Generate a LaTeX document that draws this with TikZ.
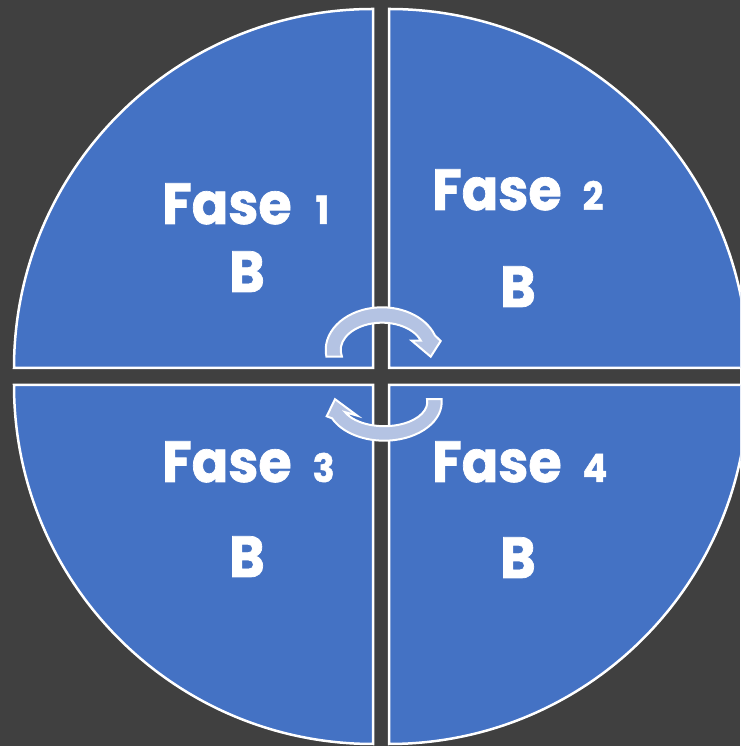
\documentclass[tikz,border=0pt]{standalone}
\usepackage{fontspec}
\setmainfont{Poppins}[FakeStretch=0.93,BoldFeatures={FakeBold=1.2}]
\definecolor{bg}{HTML}{404040}
\definecolor{qblue}{HTML}{4472C4}
\definecolor{arrowfill}{HTML}{B4C3E3}
\begin{document}
\begin{tikzpicture}[x=1pt,y=1pt,
  quarter/.style={fill=qblue,draw=white,line width=2.5pt},
  cyc/.style={fill=arrowfill,draw=white,line width=2pt,line join=miter},
  big/.style={text=white,font=\fontsize{58}{60}\selectfont\bfseries,inner sep=0pt}]
\newcommand\dg[1]{{\fontsize{39}{40}\selectfont #1}}
\fill[bg] (0,0) rectangle (740,746);
\useasboundingbox (0,0) rectangle (740,746);
\begin{scope}
  \clip (0,0) rectangle (740,746);
  \draw[quarter] (373,378) -- ++(-359,0) arc[start angle=180,end angle=90,radius=359] -- cycle;
  \draw[quarter] (389,378) -- ++(0,359) arc[start angle=90,end angle=0,radius=359] -- cycle;
  \draw[quarter] (373,361) -- ++(-359,0) arc[start angle=180,end angle=270,radius=359] -- cycle;
  \draw[quarter] (389,361) -- ++(0,-359) arc[start angle=270,end angle=360,radius=359] -- cycle;
\end{scope}
% top circular arrow (clockwise, head on the right)
\begin{scope}[shift={(382,396)}]
  \draw[cyc] (189:56.3 and 42.7) arc[start angle=189,end angle=20,x radius=56.3,y radius=42.7]
    -- (58.7,9) -- (48.7,-6.7) -- (29.7,9.3)
    -- (20:41.3 and 27.3) arc[start angle=20,end angle=194.2,x radius=41.3,y radius=27.3] -- cycle;
\end{scope}
% bottom circular arrow (clockwise, head on the left)
\begin{scope}[shift={(384.2,344)}]
  \draw[cyc] (4.2:57.5 and 38.7) arc[start angle=4.2,end angle=-155,x radius=57.5,y radius=38.7]
    -- (-57.5,-14.3) -- (-49.2,2.8) -- (-26.9,-13.7)
    -- (-155:43.1 and 24.2) arc[start angle=-155,end angle=6.8,x radius=43.1,y radius=24.2] -- cycle;
\end{scope}
\node[big,anchor=base west] (f1) at (162,522) {Fase\hspace{24pt}\dg{1}};
\node[big,anchor=base west] (f2) at (432,536) {Fase\hspace{21pt}\dg{2}};
\node[big,anchor=base west] (f3) at (162,264) {Fase\hspace{21pt}\dg{3}};
\node[big,anchor=base west] (f4) at (432,264) {Fase\hspace{21pt}\dg{4}};
\node[big,anchor=base] (b1) at (247,454) {B};
\node[big,anchor=base] (b2) at (518,439) {B};
\node[big,anchor=base] (b3) at (247,169) {B};
\node[big,anchor=base] (b4) at (518,168) {B};
\end{tikzpicture}
\end{document}
